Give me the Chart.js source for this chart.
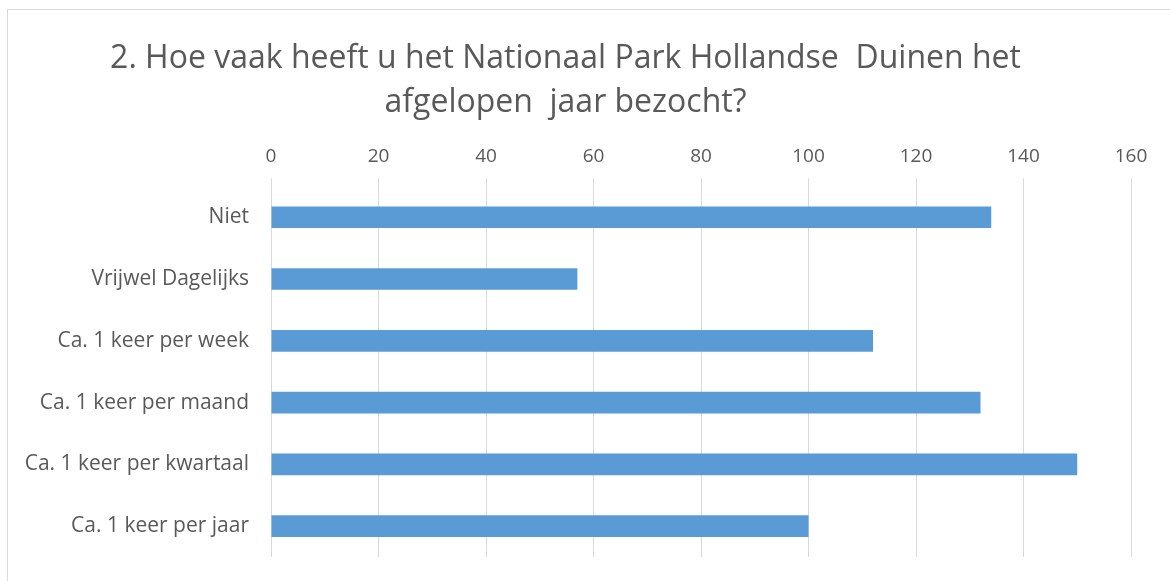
<!DOCTYPE html>
<html>
<head>
<meta charset="utf-8">
<script src="https://cdn.jsdelivr.net/npm/chart.js@4/dist/chart.umd.min.js"></script>
<style>
  html, body { margin: 0; padding: 0; background: #ffffff; }
  #wrap { position: relative; width: 1170px; height: 581px; overflow: hidden; }
  #frame { position: absolute; left: 7px; top: 9px; width: 1170px; height: 600px; border: 1px solid #d9d9d9; box-sizing: border-box; }
  canvas { position: absolute; left: 0; top: 0; }
</style>
</head>
<body>
<div id="wrap">
  <div id="frame"></div>
  <canvas id="c" width="1170" height="581"></canvas>
</div>
<script>
const categories = ["Niet", "Vrijwel Dagelijks", "Ca. 1 keer per week", "Ca. 1 keer per maand", "Ca. 1 keer per kwartaal", "Ca. 1 keer per jaar"];
const values = [134, 57, 112, 132, 150, 100];
const tickValues = [0, 20, 40, 60, 80, 100, 120, 140, 160];
const titleLines = ["2. Hoe vaak heeft u het Nationaal Park Hollandse  Duinen het", "afgelopen  jaar bezocht?"];

const FONT = "'Open Sans', 'Noto Sans', sans-serif";
const GREY = "#595959";

new Chart(document.getElementById('c'), {
  type: 'bar',
  data: {
    labels: categories,
    datasets: [{
      data: values,
      backgroundColor: '#5b9bd5',
      borderWidth: 0,
      categoryPercentage: 1.0,
      barPercentage: 0.35
    }]
  },
  options: {
    indexAxis: 'y',
    responsive: false,
    animation: false,
    layout: { padding: { left: 0, right: 39, top: 36, bottom: 24 } },
    plugins: {
      legend: { display: false },
      tooltip: { enabled: false },
      title: {
        display: true,
        text: titleLines,
        color: GREY,
        font: { family: FONT, size: 32, weight: 'normal', lineHeight: 1.4 },
        padding: { top: 0, bottom: 10 }
      }
    },
    scales: {
      x: {
        position: 'top',
        min: 0,
        max: 160,
        afterBuildTicks: (axis) => { axis.ticks = tickValues.map(v => ({ value: v })); },
        ticks: { color: GREY, font: { family: FONT, size: 19 }, padding: 10 },
        grid: { color: '#d9d9d9', lineWidth: 1, drawTicks: true, tickLength: 8, tickColor: '#d9d9d9' },
        border: { display: false }
      },
      y: {
        afterFit: (axis) => { axis.width = 271; },
        ticks: { color: GREY, font: { family: FONT, size: 21 }, padding: 0 },
        grid: { display: true, drawOnChartArea: false, drawTicks: true, tickLength: 22, color: 'rgba(0,0,0,0)', tickColor: 'rgba(0,0,0,0)' },
        border: { display: false }
      }
    }
  }
});
</script>
</body>
</html>
